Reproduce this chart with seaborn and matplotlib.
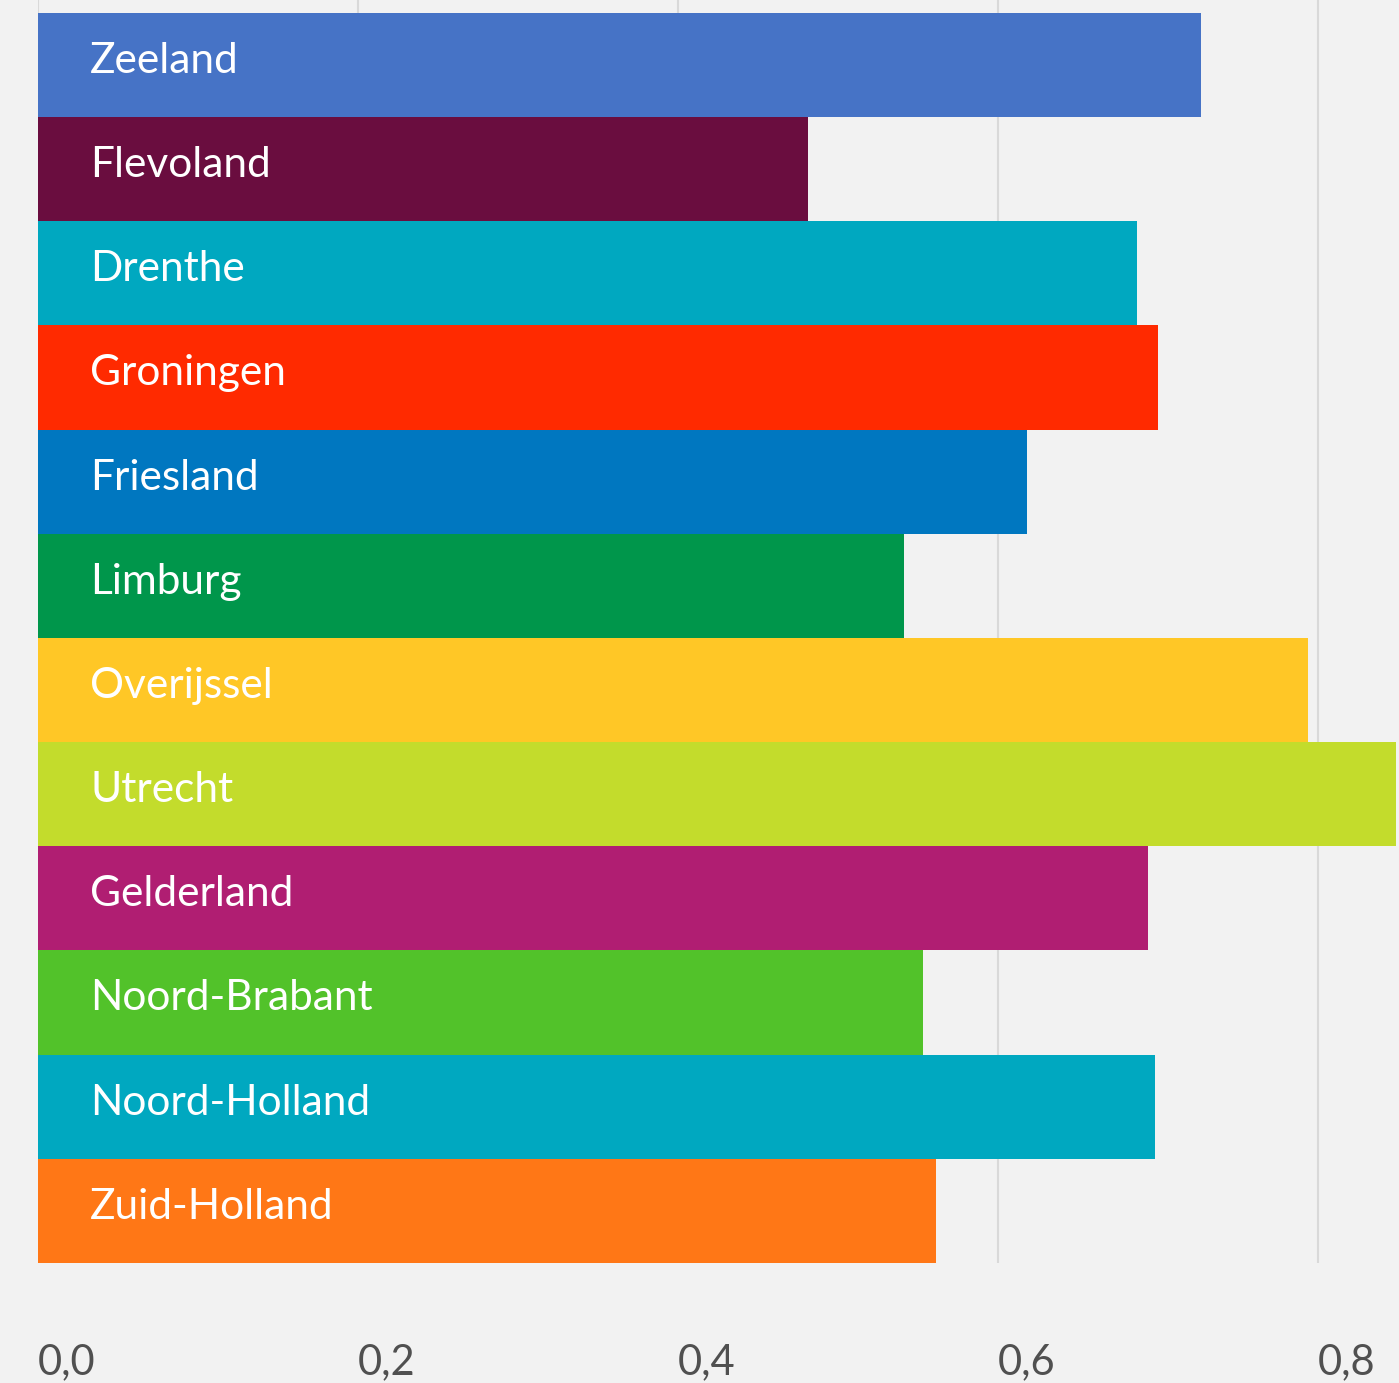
import matplotlib
matplotlib.use("Agg")
import matplotlib.pyplot as plt
import seaborn as sns
import pandas as pd

provinces = ["Zeeland", "Flevoland", "Drenthe", "Groningen", "Friesland", "Limburg",
             "Overijssel", "Utrecht", "Gelderland", "Noord-Brabant", "Noord-Holland", "Zuid-Holland"]
values = [0.727, 0.481, 0.687, 0.700, 0.618, 0.541, 0.794, 0.849, 0.694, 0.553, 0.698, 0.561]
colors = ["#4673C6", "#6A0D3F", "#00A8C0", "#FF2A00", "#0077C0", "#00964B",
          "#FFC726", "#C3DC2C", "#B01E72", "#52C22A", "#00A8C0", "#FF7716"]
xticks = [0.0, 0.2, 0.4, 0.6, 0.8]
xticklabels = ["0,0", "0,2", "0,4", "0,6", "0,8"]

df = pd.DataFrame({"province": provinces, "value": values})

sns.set_style("white")
plt.rcParams['font.family'] = ['Lato', 'DejaVu Sans']

W, H = 1399, 1383
fig = plt.figure(figsize=(W / 100, H / 100), dpi=100)
fig.patch.set_facecolor("#F2F2F2")
ax = fig.add_axes([38 / W, 120 / H, (W - 38) / W, (H - 120) / H])
ax.set_facecolor("#F2F2F2")

sns.barplot(data=df, x="value", y="province", hue="province", palette=dict(zip(provinces, colors)),
            orient="h", width=1.0, dodge=False, legend=False, saturation=1, linewidth=0,
            ax=ax, zorder=3)

ax.set_xlim(0, (W - 38) / 1600)
ax.set_ylim(len(provinces) - 0.5, -0.5 - 13 / 104.2)

for i, name in enumerate(provinces):
    ax.text(52 / 1600, i - 0.04, name, color="white", fontsize=30.5, va="center", ha="left", zorder=4)

ax.set_xticks(xticks)
ax.set_xticklabels(xticklabels, fontsize=30, color="#505050")
for lbl in ax.get_xticklabels():
    lbl.set_horizontalalignment("left")
ax.tick_params(axis="x", length=0, pad=58)
ax.set_yticks([])
ax.set_xlabel("")
ax.set_ylabel("")
ax.grid(axis="x", color="#D9D9D9", linewidth=1.5, zorder=0)
ax.set_axisbelow(True)
for s in ax.spines.values():
    s.set_visible(False)

fig.savefig("out.png", dpi=100, facecolor=fig.get_facecolor())
